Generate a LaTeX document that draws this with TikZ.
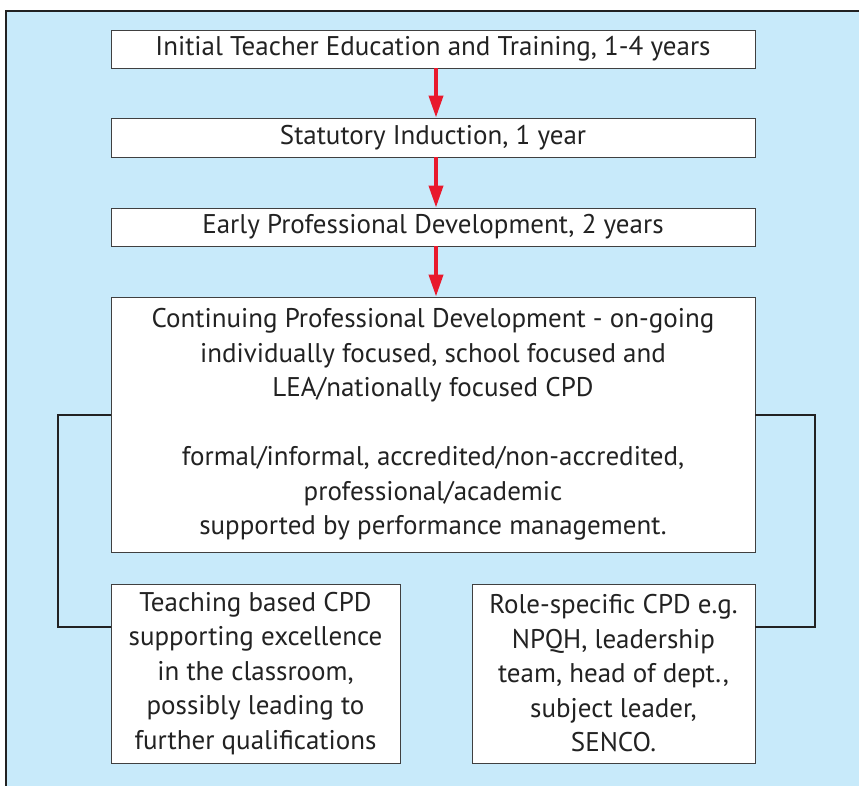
\documentclass[tikz,border=0pt]{standalone}
\usepackage{fontspec}
\setmainfont{PT Sans}
\usepackage{xcolor}
\usetikzlibrary{arrows.meta}
\definecolor{panelblue}{HTML}{C8EAFA}
\definecolor{flowred}{HTML}{E8192C}
\definecolor{inkgray}{HTML}{222222}

\begin{document}
\begin{tikzpicture}[x=1pt, y=-1pt,
  stage/.style={draw=black!75, line width=0.9pt, fill=white, text=inkgray,
    align=center, inner sep=0pt, font=\fontsize{27}{34.5}\selectfont},
  flow/.style={-{Triangle[length=22pt,width=14pt]}, line width=3.8pt, draw=flowred},
  bracket/.style={draw=inkgray, line width=2pt}
]
  \useasboundingbox (0,0) rectangle (859,786);
  \fill[panelblue] (6,11) rectangle (859,786);
  \draw[line width=2.2pt, draw=inkgray] (6,786) -- (6,11) -- (859,11);

  \node[stage, minimum width=644pt, minimum height=38pt] (ite) at (433,49)
    {Initial Teacher Education and Training, 1-4 years};
  \node[stage, minimum width=644pt, minimum height=39pt] (ind) at (433,137.5)
    {Statutory Induction, 1 year};
  \node[stage, minimum width=644pt, minimum height=38pt] (epd) at (433,227)
    {Early Professional Development, 2 years};
  \node[stage, minimum width=644pt, minimum height=255pt] (cpd) at (433,424.5)
    {Continuing Professional Development - on-going\\
     individually focused, school focused and\\
     LEA/nationally focused CPD\\[34.5pt]
     formal/informal, accredited/non-accredited,\\
     professional/academic\\
     supported by performance management.};
  \node[stage, minimum width=289pt, minimum height=179pt] (teach) at (255.5,673.5)
    {Teaching based CPD\\ supporting excellence\\ in the classroom,\\
     possibly leading to\\ further qualifications};
  \node[stage, minimum width=283pt, minimum height=179pt] (role) at (613.5,673.5)
    {Role-specific CPD e.g.\\ NPQH, leadership\\ team, head of dept.,\\
     subject leader,\\ SENCO.};

  \draw[flow] (ite.south -| 436,0) -- (ind.north -| 436,0);
  \draw[flow] (ind.south -| 436,0) -- (epd.north -| 436,0);
  \draw[flow] (epd.south -| 436,0) -- (cpd.north -| 436,0);

  \coordinate (lefttop) at (58,415);
  \coordinate (leftbot) at (58,627);
  \coordinate (righttop) at (815,415);
  \coordinate (rightbot) at (815,627);
  \draw[bracket] (cpd.west |- lefttop) -- (lefttop) -- (leftbot) -- (teach.west |- leftbot);
  \draw[bracket] (cpd.east |- righttop) -- (righttop) -- (rightbot) -- (role.east |- rightbot);
\end{tikzpicture}
\end{document}
